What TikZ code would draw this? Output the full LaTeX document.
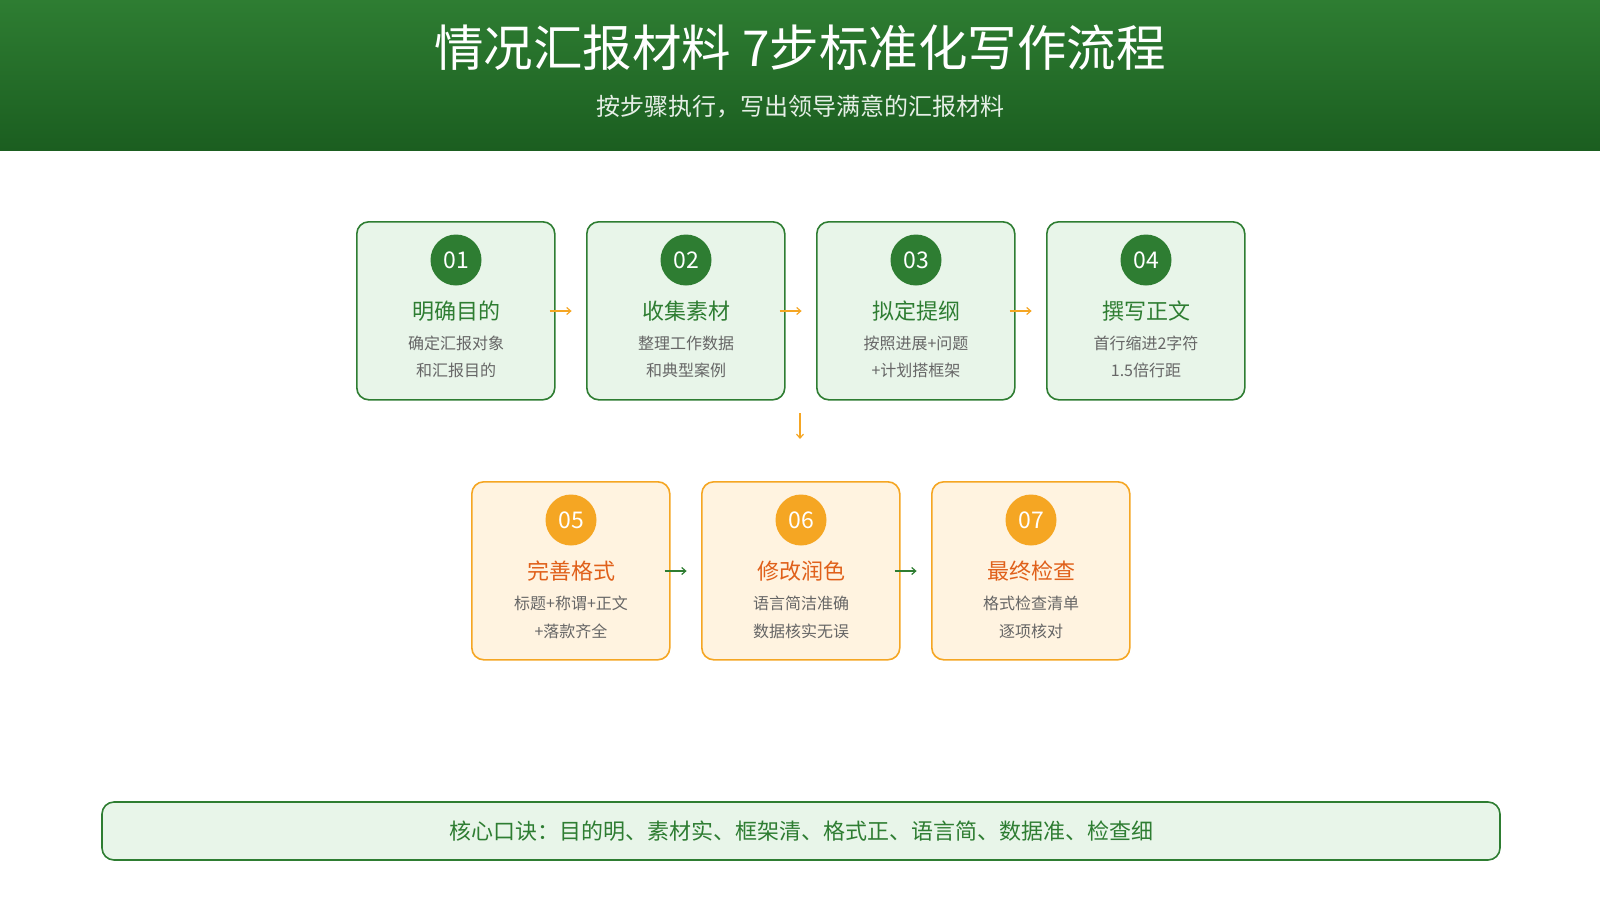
\documentclass[tikz,border=0pt]{standalone}
\usepackage{fontspec}
\setmainfont{Noto Sans CJK SC}
\usetikzlibrary{arrows.meta}
\definecolor{gd}{HTML}{2E7D32}
\definecolor{gdd}{HTML}{1B5E20}
\definecolor{gf}{HTML}{E8F5E9}
\definecolor{od}{HTML}{F5A623}
\definecolor{of}{HTML}{FFF3E0}
\definecolor{ot}{HTML}{E0601A}
\definecolor{gt}{HTML}{666666}
\begin{document}
\begin{tikzpicture}[x=1pt,y=-1pt,
 gbox/.style={draw=gd,fill=gf,line width=1.6pt,rounded corners=12pt,minimum width=198pt,minimum height=178pt,anchor=north west},
 obox/.style={draw=od,fill=of,line width=1.6pt,rounded corners=12pt,minimum width=198pt,minimum height=178pt,anchor=north west},
 num/.style={circle,minimum size=51pt,inner sep=0pt,text=white,font=\fontsize{23}{23}\selectfont},
 ttl/.style={font=\fontsize{22}{22}\selectfont},
 sub/.style={text=gt,font=\fontsize{16}{16}\selectfont},
 arr/.style={-{Straight Barb[length=4pt,width=7pt]},line width=1.2pt}]
\useasboundingbox (0,0) rectangle (1600,900);
\shade[top color=gd,bottom color=gdd] (0,0) rectangle (1600,150);
\node[text=white,font=\fontsize{49.5}{50}\selectfont] (title) at (800,48) {情况汇报材料 7步标准化写作流程};
\node[text=white!88!gd,font=\fontsize{24}{24}\selectfont] (subt) at (800,107) {按步骤执行，写出领导满意的汇报材料};
\foreach \i/\x/\t/\a/\b in {1/356/明确目的/确定汇报对象/和汇报目的,2/586/收集素材/整理工作数据/和典型案例,3/816/拟定提纲/按照进展+问题/+计划搭框架,4/1046/撰写正文/首行缩进2字符/1.5倍行距}{
 \node[gbox] (b\i) at (\x,221) {};
 \node[num,fill=gd] (n\i) at (\x+100,260) {0\i};
 \node[ttl,text=gd] (t\i) at (\x+100,311) {\t};
 \node[sub] (a\i) at (\x+100,343) {\a};
 \node[sub] (c\i) at (\x+100,370) {\b};
}
\foreach \i/\x/\t/\a/\b in {5/471/完善格式/标题+称谓+正文/+落款齐全,6/701/修改润色/语言简洁准确/数据核实无误,7/931/最终检查/格式检查清单/逐项核对}{
 \node[obox] (b\i) at (\x,481) {};
 \node[num,fill=od] (n\i) at (\x+100,520) {0\i};
 \node[ttl,text=ot] (t\i) at (\x+100,571) {\t};
 \node[sub] (a\i) at (\x+100,603) {\a};
 \node[sub] (c\i) at (\x+100,631) {\b};
}
\foreach \p/\q in {1/2,2/3,3/4}{
 \draw[arr,od] ([xshift=-6pt]b\p.east|-t\p) -- ([xshift=16pt]b\p.east|-t\p);
}
\foreach \p/\q in {5/6,6/7}{
 \draw[arr,gd] ([xshift=-6pt]b\p.east|-t\p) -- ([xshift=16pt]b\p.east|-t\p);
}
\coordinate (d1) at (800,413);
\coordinate (d2) at (800,439);
\draw[arr,od] (d1) -- (d2);
\node[draw=gd,fill=gf,line width=1.6pt,rounded corners=12pt,minimum width=1398pt,minimum height=58pt] (bar) at (801,831) {};
\node[text=gd,font=\fontsize{22}{22}\selectfont] (bt) at (bar.center) {核心口诀：目的明、素材实、框架清、格式正、语言简、数据准、检查细};
\end{tikzpicture}
\end{document}
